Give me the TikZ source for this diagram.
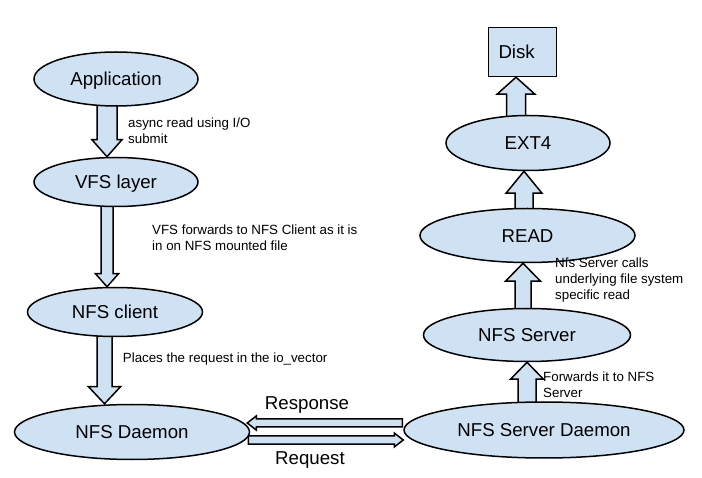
\documentclass[tikz,border=0pt]{standalone}
\usepackage{fontspec}
\setmainfont{Liberation Sans}
\usetikzlibrary{shapes.geometric,calc}
\pgfdeclarelayer{background}
\pgfsetlayers{background,main}
\definecolor{boxblue}{HTML}{CFE2F3}
\tikzset{
  ell/.style={ellipse, draw=black, fill=boxblue, line width=1.5pt, inner sep=0pt,
    font=\fontsize{18.67}{22}\selectfont, text height=17pt, text depth=3.6pt},
  rectbox/.style={rectangle, draw=black, fill=boxblue, line width=1.5pt, inner sep=10pt,
    font=\fontsize{18.67}{22}\selectfont, text height=17pt, text depth=3.6pt, align=left},
  blockarrow/.style={draw=black, fill=boxblue, line width=1.5pt, line join=miter},
  lbl/.style={font=\fontsize{13.33}{16}\selectfont, align=left, anchor=north west, inner sep=0pt},
  biglbl/.style={font=\fontsize{18.67}{22}\selectfont, inner sep=0pt},
}
% vertical block arrow: #1 x, #2 tail node, #3 tip point, #4 shaft half width, #5 head half width, #6 head length
\newcommand\vblock[6]{%
  \begin{pgfonlayer}{background}
  \draw[blockarrow] let \p1=(#2.center), \p2=(#3), \n1={\y2<\y1 ? 1 : -1} in
    ({#1pt-#4pt},\y1) -- ({#1pt-#4pt},{\y2+\n1*#6pt}) -- ({#1pt-#5pt},{\y2+\n1*#6pt})
    -- (#1pt,\y2) -- ({#1pt+#5pt},{\y2+\n1*#6pt}) -- ({#1pt+#4pt},{\y2+\n1*#6pt})
    -- ({#1pt+#4pt},\y1) -- cycle;
  \end{pgfonlayer}}
% horizontal block arrow: #1 y (image px, down), #2 tail point, #3 tip point, #4 shaft half, #5 head half, #6 head length
\newcommand\hblock[6]{%
  \begin{pgfonlayer}{background}
  \draw[blockarrow] let \p1=(#2), \p2=(#3), \n1={\x2<\x1 ? 1 : -1} in
    (\x1,{-#1pt+#4pt}) -- ({\x2+\n1*#6pt},{-#1pt+#4pt}) -- ({\x2+\n1*#6pt},{-#1pt+#5pt})
    -- (\x2,-#1pt) -- ({\x2+\n1*#6pt},{-#1pt-#5pt}) -- ({\x2+\n1*#6pt},{-#1pt-#4pt})
    -- (\x1,{-#1pt-#4pt}) -- cycle;
  \end{pgfonlayer}}
\begin{document}
\begin{tikzpicture}[x=1pt,y=-1pt]
\useasboundingbox (0,0) rectangle (702,478);
% left column
\node[ell, minimum width=164pt, minimum height=54pt] (app) at (116,79) {Application};
\node[ell, minimum width=164pt, minimum height=49pt] (vfs) at (116,182) {VFS layer};
\node[ell, minimum width=175pt, minimum height=49pt] (nfsc) at (115,312) {NFS client};
\node[ell, minimum width=235pt, minimum height=55pt] (dae) at (132,432) {NFS Daemon};
% right column
\node[ell, minimum width=280pt, minimum height=56pt] (sdae) at (544,430) {NFS Server Daemon};
\node[ell, minimum width=207pt, minimum height=53pt] (srv) at (527,335) {NFS Server};
\node[ell, minimum width=215pt, minimum height=54pt] (read) at (527.5,235.5) {READ};
\node[ell, minimum width=164pt, minimum height=55pt] (ext4) at (528,143) {EXT4};
\node[rectbox, minimum width=68pt, minimum height=49pt, text width=48pt] (disk) at (522.5,52) {Disk};
% block arrows
\vblock{107}{app}{vfs.north}{10}{15}{17}
\vblock{107}{vfs}{nfsc.north}{6}{11.5}{13}
\vblock{104.5}{nfsc}{dae.north}{7.5}{16}{17}
\vblock{527}{sdae}{srv.south}{9}{16.5}{17}
\vblock{523}{srv}{read.south}{8}{17.5}{18}
\vblock{524}{read}{ext4.south}{9}{18}{22}
\vblock{516}{ext4}{disk.south}{9.5}{19}{17}
\hblock{423}{$(sdae.west)+(-1,0)$}{$(dae.east)+(-3,0)$}{4}{7}{9}
\hblock{440}{$(dae.east)+(-2,0)$}{sdae.west}{4}{7}{9}
% labels
\node[lbl] (t1) at (128,118) {async read using I/O\\submit};
\node[lbl] (t2) at (152,225) {VFS forwards to NFS Client as it is\\in on NFS mounted file};
\node[lbl] (t3) at (122.7,353) {Places the request in the io\_vector};
\node[lbl] (t4) at (555,258) {Nfs Server calls\\underlying file system\\specific read};
\node[lbl] (t5) at (543,372) {Forwards it to NFS\\Server};
\node[biglbl] (resp) at (307,405) {Response};
\node[biglbl] (req) at (310,460) {Request};
\end{tikzpicture}
\end{document}
